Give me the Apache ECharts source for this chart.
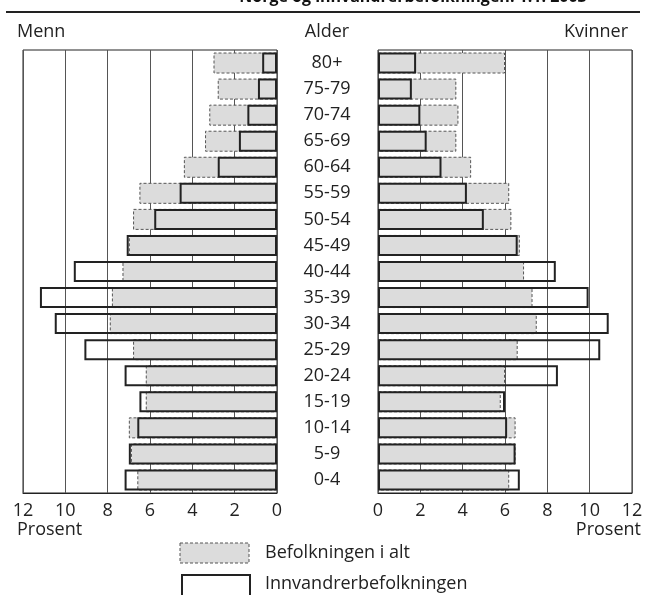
<!DOCTYPE html>
<html>
<head>
<meta charset="utf-8">
<script src="https://cdn.jsdelivr.net/npm/echarts@6/dist/echarts.min.js"></script>
<style>
  html, body { margin: 0; padding: 0; background: #fff; }
  #chart { width: 646px; height: 595px; }
</style>
</head>
<body>
<div id="chart"></div>
<script>
var ages = ['80+', '75-79', '70-74', '65-69', '60-64', '55-59', '50-54', '45-49', '40-44',
    '35-39', '30-34', '25-29', '20-24', '15-19', '10-14', '5-9', '0-4'];

// prosent, menn
var mennAlt = [3.0, 2.8, 3.2, 3.4, 4.4, 6.5, 6.8, 7.0, 7.3, 7.8, 7.9, 6.8, 6.2, 6.2, 7.0, 6.9, 6.6];
var mennInnv = [0.7, 0.9, 1.4, 1.8, 2.8, 4.6, 5.8, 7.1, 9.6, 11.2, 10.5, 9.1, 7.2, 6.5, 6.6, 7.0, 7.2];

// prosent, kvinner
var kvinnerAlt = [6.0, 3.7, 3.8, 3.7, 4.4, 6.2, 6.3, 6.7, 6.9, 7.3, 7.5, 6.6, 6.0, 5.8, 6.5, 6.5, 6.2];
var kvinnerInnv = [1.8, 1.6, 2.0, 2.3, 3.0, 4.2, 5.0, 6.6, 8.4, 9.95, 10.9, 10.5, 8.5, 6.0, 6.1, 6.5, 6.7];

var font = '"Open Sans", "DejaVu Sans", sans-serif';
var txtColor = '#222';

var chart = echarts.init(document.getElementById('chart'));

var altStyle = {
    color: '#dcdcdc',
    borderColor: '#555',
    borderWidth: 1,
    borderType: [3, 2]
};
var innvStyle = {
    color: 'rgba(0,0,0,0)',
    borderColor: '#222',
    borderWidth: 2
};

function xAxisFor(idx, inverse) {
    return {
        type: 'value',
        gridIndex: idx,
        min: 0,
        max: 12,
        interval: 2,
        inverse: inverse,
        axisLine: { show: true, lineStyle: { color: '#222', width: 1 } },
        axisTick: { show: false },
        axisLabel: { fontFamily: font, fontSize: 18, color: txtColor, margin: 9 },
        splitLine: { show: true, lineStyle: { color: '#555', width: 1 } }
    };
}

var option = {
    animation: false,
    backgroundColor: '#fff',
    textStyle: { fontFamily: font },
    grid: [
        { left: 23, width: 254, top: 50, height: 443, show: true, borderColor: '#222', borderWidth: 1 },
        { left: 378, width: 254, top: 50, height: 443, show: true, borderColor: '#222', borderWidth: 1 }
    ],
    xAxis: [xAxisFor(0, true), xAxisFor(1, false)],
    yAxis: [
        {
            type: 'category',
            gridIndex: 0,
            data: ages,
            inverse: true,
            position: 'right',
            axisLine: { show: false },
            axisTick: { show: false },
            axisLabel: { align: 'center', margin: 50, fontFamily: font, fontSize: 18, color: txtColor }
        },
        {
            type: 'category',
            gridIndex: 1,
            data: ages,
            inverse: true,
            axisLine: { show: false },
            axisTick: { show: false },
            axisLabel: { show: false }
        }
    ],
    series: [
        { name: 'Befolkningen i alt', type: 'bar', xAxisIndex: 0, yAxisIndex: 0, data: mennAlt,
          barWidth: 21, barGap: '-100%', itemStyle: altStyle },
        { name: 'Innvandrerbefolkningen', type: 'bar', xAxisIndex: 0, yAxisIndex: 0, data: mennInnv,
          barWidth: 21, barGap: '-100%', itemStyle: innvStyle },
        { name: 'Befolkningen i alt', type: 'bar', xAxisIndex: 1, yAxisIndex: 1, data: kvinnerAlt,
          barWidth: 21, barGap: '-100%', itemStyle: altStyle },
        { name: 'Innvandrerbefolkningen', type: 'bar', xAxisIndex: 1, yAxisIndex: 1, data: kvinnerInnv,
          barWidth: 21, barGap: '-100%', itemStyle: innvStyle }
    ],
    graphic: [
        // tittel (delvis utenfor bildet)
        { type: 'text', x: 413, y: -11,
          style: { text: 'Norge og innvandrerbefolkningen. 1.1. 2003', font: 'bold 16px ' + font, fill: '#111', align: 'center' } },
        { type: 'line', shape: { x1: 6, y1: 12, x2: 640, y2: 12 }, style: { stroke: '#222', lineWidth: 2 } },
        { type: 'text', left: 17, top: 23, style: { text: 'Menn', font: '18px ' + font, fill: txtColor } },
        { type: 'text', x: 327, y: 23, style: { text: 'Alder', font: '18px ' + font, fill: txtColor, align: 'center' } },
        { type: 'text', x: 628, y: 23, style: { text: 'Kvinner', font: '18px ' + font, fill: txtColor, align: 'right' } },
        { type: 'text', x: 17, y: 521, style: { text: 'Prosent', font: '18px ' + font, fill: txtColor } },
        { type: 'text', x: 641, y: 521, style: { text: 'Prosent', font: '18px ' + font, fill: txtColor, align: 'right' } },
        // tegnforklaring
        { type: 'rect', shape: { x: 180, y: 543, width: 69, height: 20 },
          style: { fill: '#dcdcdc', stroke: '#555', lineWidth: 1, lineDash: [3, 2] } },
        { type: 'text', x: 265, y: 544, style: { text: 'Befolkningen i alt', font: '18px ' + font, fill: txtColor } },
        { type: 'rect', shape: { x: 182, y: 575, width: 68, height: 30 },
          style: { fill: 'none', stroke: '#222', lineWidth: 2 } },
        { type: 'text', x: 265, y: 575, style: { text: 'Innvandrerbefolkningen', font: '18px ' + font, fill: txtColor } }
    ]
};

chart.setOption(option);
</script>
</body>
</html>
